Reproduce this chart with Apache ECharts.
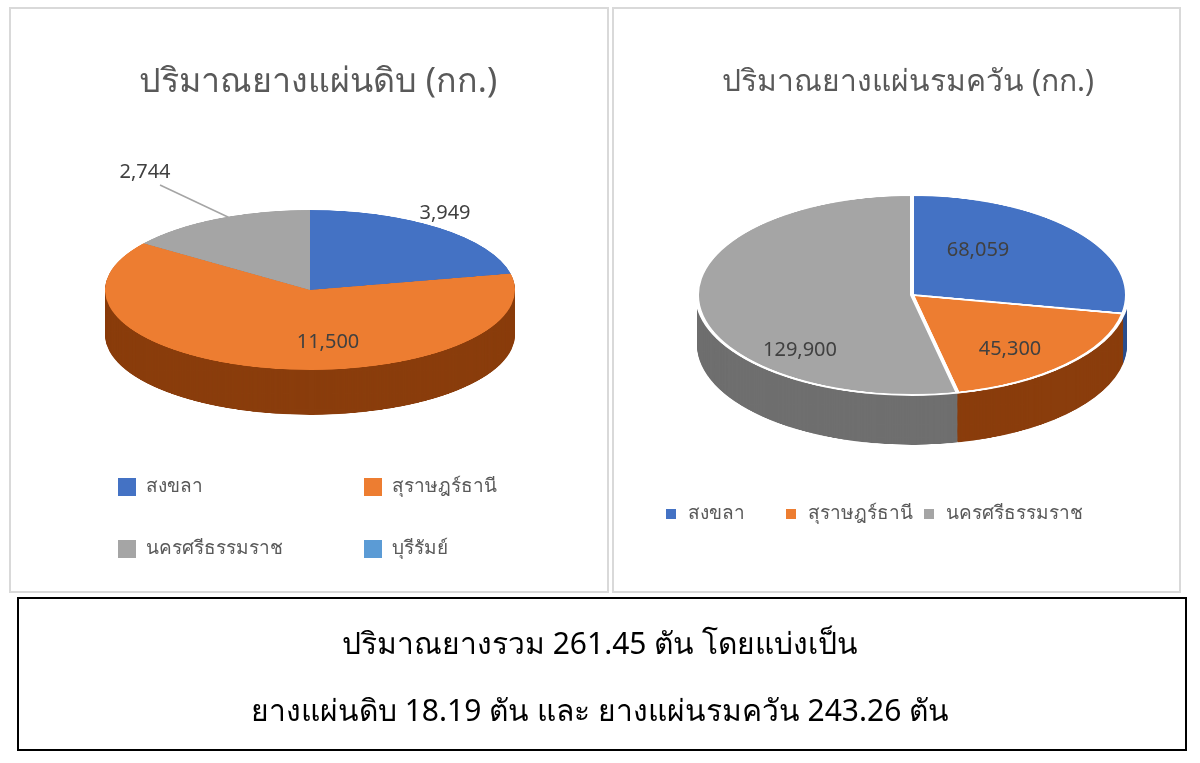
<!DOCTYPE html>
<html><head><meta charset="utf-8">
<script src="https://cdn.jsdelivr.net/npm/echarts@6/dist/echarts.min.js"></script>
<style>
body{margin:0;background:#fff;width:1200px;height:763px;position:relative;overflow:hidden;font-family:"Noto Sans","DejaVu Sans",sans-serif}
.pie{position:absolute;transform-origin:0 0}
#main{position:absolute;left:0;top:0;width:1200px;height:763px;z-index:5}
</style></head><body>
<div id="pieL" class="pie"></div>
<div id="pieR" class="pie"></div>
<div id="main"></div>
<script>
// data
var rawNames = ['สงขลา', 'สุราษฎร์ธานี', 'นครศรีธรรมราช', 'บุรีรัมย์'];
var rawValues = [3949, 11500, 2744, 0];
var smokedNames = ['สงขลา', 'สุราษฎร์ธานี', 'นครศรีธรรมราช'];
var smokedValues = [68059, 45300, 129900];
var topColors = ['#4472c4', '#ed7d31', '#a5a5a5', '#5b9bd5'];
var sideColors = ['#2b4f8f', '#8a3d0c', '#6f6f6f', '#3d6f9e'];
var FONT = '"Noto Sans","DejaVu Sans",sans-serif';

function makePie(id, left, cy, r, scale, depth, names, values, border) {
    var el = document.getElementById(id);
    el.style.left = (left - r) + 'px';
    el.style.top = (cy - r * scale) + 'px';
    el.style.width = (2 * r) + 'px';
    el.style.height = (2 * r + depth) + 'px';
    el.style.transform = 'scaleY(' + scale + ')';
    var chart = echarts.init(el);
    var offsets = [];
    for (var k = depth; k > 0; k -= 2) offsets.push(k);
    offsets.push(0);
    var series = offsets.map(function (k) {
        var top = (k == 0);
        return {
            type: 'pie', silent: true, animation: false,
            startAngle: 90, clockwise: true,
            radius: [0, r], center: [r, r + k],
            label: {show: false}, labelLine: {show: false},
            itemStyle: {borderWidth: (border && top) ? 4 : 0, borderColor: '#fff'},
            data: names.map(function (n, i) {
                return {name: n, value: values[i], itemStyle: {color: top ? topColors[i] : sideColors[i]}};
            })
        };
    });
    chart.setOption({series: series});
}
makePie('pieL', 310, 290, 205, 0.39, 115, rawNames, rawValues, false);
makePie('pieR', 912, 295, 215, 0.465, 107, smokedNames, smokedValues, true);

function fmt(v) { return v.toLocaleString('en-US'); }
function txt(x, y, s, size, color, align) {
    return {type: 'text', x: x, y: y, style: {text: s, font: size + 'px ' + FONT, fill: color || '#404040', textAlign: align || 'center', textVerticalAlign: 'middle'}};
}
function legendItem(x, y, name, color) {
    return [{type: 'rect', shape: {x: x, y: y - 9, width: 18, height: 18}, style: {fill: color}},
            txt(x + 28, y, name, 19, '#595959', 'left')];
}

var g = [
    {type: 'rect', shape: {x: 10, y: 8, width: 598, height: 584}, style: {fill: 'none', stroke: '#d9d9d9', lineWidth: 2}},
    {type: 'rect', shape: {x: 613, y: 8, width: 567, height: 584}, style: {fill: 'none', stroke: '#d9d9d9', lineWidth: 2}},
    {type: 'rect', shape: {x: 18, y: 598, width: 1168, height: 152}, style: {fill: 'none', stroke: '#000', lineWidth: 2}},
    txt(318, 82, 'ปริมาณยางแผ่นดิบ (กก.)', 34, '#595959'),
    txt(908, 82, 'ปริมาณยางแผ่นรมควัน (กก.)', 30, '#595959'),
    txt(445, 213, fmt(rawValues[0]), 20),
    txt(328, 342, fmt(rawValues[1]), 20),
    txt(145, 172, fmt(rawValues[2]), 20),
    {type: 'polyline', shape: {points: [[160, 185], [230, 218]]}, style: {stroke: '#a5a5a5', lineWidth: 1.5}},
    txt(978, 250, fmt(smokedValues[0]), 20),
    txt(1010, 349, fmt(smokedValues[1]), 20),
    txt(800, 350, fmt(smokedValues[2]), 20),
    txt(600, 645, 'ปริมาณยางรวม 261.45 ตัน โดยแบ่งเป็น', 30, '#000'),
    txt(600, 712, 'ยางแผ่นดิบ 18.19 ตัน และ ยางแผ่นรมควัน 243.26 ตัน', 30, '#000')
];
var lpos = [[118, 487], [364, 487], [118, 549], [364, 549]];
rawNames.forEach(function (n, i) { g = g.concat(legendItem(lpos[i][0], lpos[i][1], n, topColors[i])); });
var rpos = [[666, 514], [786, 514], [924, 514]];
smokedNames.forEach(function (n, i) {
    var it = legendItem(rpos[i][0], rpos[i][1], n, topColors[i]);
    it[0].shape = {x: rpos[i][0], y: rpos[i][1] - 5, width: 10, height: 10};
    it[1].x = rpos[i][0] + 22;
    g = g.concat(it);
});
var main = echarts.init(document.getElementById('main'));
main.setOption({graphic: g});
</script>
</body></html>
